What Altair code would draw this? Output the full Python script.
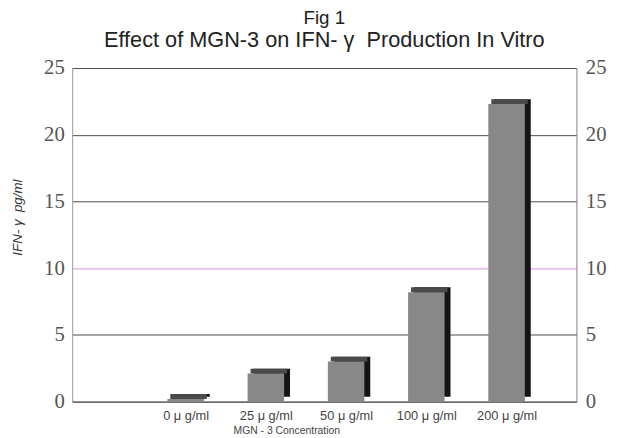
import json
import altair as alt
import pandas as pd

# ---- data ----
concentrations = ["0 \u03bc g/ml", "25 \u03bc g/ml", "50 \u03bc g/ml", "100 \u03bc g/ml", "200 \u03bc g/ml"]
ifn_gamma = [0.2, 2.1, 3.0, 8.2, 22.3]
y_ticks = [0, 5, 10, 15, 20, 25]
fig_label = "Fig 1"
chart_title = "Effect of MGN-3 on IFN- \u03b3\u00a0 Production In Vitro"
x_title = "MGN - 3 Concentration"
y_title = "IFN- \u03b3\u00a0 pg/ml"

df = pd.DataFrame({
    "idx": list(range(len(concentrations))),
    "conc": concentrations,
    "val": ifn_gamma,
})

HALF = 0.2275
xscale = alt.Scale(domain=[-1.414, 4.871], nice=False, zero=False)
yscale = alt.Scale(domain=[0, 25], nice=False)
label_expr = json.dumps(concentrations, ensure_ascii=False) + "[datum.value]"

x_axis = alt.Axis(
    values=list(range(len(concentrations))), labelExpr=label_expr,
    title=x_title, titleFont="Liberation Sans", titleFontSize=10.5,
    titleFontWeight="normal", titleColor="#444444",
    titleX=217, titleY=29, titleBaseline="middle", titleAnchor="middle",
    labelFont="Liberation Sans", labelFontSize=13, labelColor="#444444",
    labelPadding=8, ticks=False, grid=False, domainColor="#555555",
    labelFlush=False, labelOverlap=False)

base = alt.Chart(df).transform_calculate(
    x0=f"datum.idx - {HALF}", x1=f"datum.idx + {HALF}", zero="0"
)

side = base.mark_bar(color="#151515", xOffset=6, x2Offset=6, yOffset=-5, y2Offset=-5).encode(
    x=alt.X("x0:Q", scale=xscale, axis=x_axis),
    x2="x1:Q",
    y=alt.Y("val:Q", scale=yscale, axis=alt.Axis(
        orient="right", values=y_ticks, grid=False, ticks=False, title=None,
        labelFont="Liberation Serif", labelFontSize=21, labelColor="#555555",
        labelPadding=9, domainColor="#808080", labelBaseline="middle")),
    y2="zero:Q",
)

top = base.mark_bar(color="#4a4a4a", xOffset=3, x2Offset=3, yOffset=-5, y2Offset=0).encode(
    x=alt.X("x0:Q", scale=xscale, axis=x_axis),
    x2="x1:Q",
    y=alt.Y("val:Q", scale=yscale, axis=None),
    y2="val:Q",
)

front = base.mark_bar(color="#888888").encode(
    x=alt.X("x0:Q", scale=xscale, axis=x_axis),
    x2="x1:Q",
    y=alt.Y("val:Q", scale=yscale, axis=alt.Axis(
        orient="left", values=y_ticks, ticks=False, title=y_title,
        titleFont="Liberation Sans", titleFontSize=13.5, titleFontStyle="italic",
        titleFontWeight="normal", titleColor="#333333",
        titleX=-55, titleY=151, titleAngle=-90, titleBaseline="middle", titleAnchor="middle",
        labelFont="Liberation Serif", labelFontSize=21, labelColor="#555555",
        labelPadding=8, domainColor="#9a9a9a", labelBaseline="middle",
        grid=True,
        gridColor={"condition": {"test": "datum.value === 10", "value": "#d58ee0"}, "value": "#4a4a4a"},
        gridOpacity=1)),
    y2="zero:Q",
)

chart = alt.layer(side, top, front).resolve_axis(y="independent").properties(
    width=511,
    height=338,
    autosize=alt.AutoSizeParams(type="none"),
    padding={"left": 65, "top": 58, "right": 35, "bottom": 34},
    title=alt.TitleParams(
        text=fig_label, subtitle=chart_title,
        font="Liberation Sans", fontSize=19, fontWeight="normal", color="#222222",
        subtitleFont="Liberation Sans", subtitleFontSize=22, subtitleFontWeight="normal",
        subtitleColor="#222222", subtitlePadding=3,
        anchor="middle", offset=6,
    ),
    background="white",
).configure_view(stroke=None)

chart.save("out.html", embed_options={"renderer": "svg", "actions": False})
